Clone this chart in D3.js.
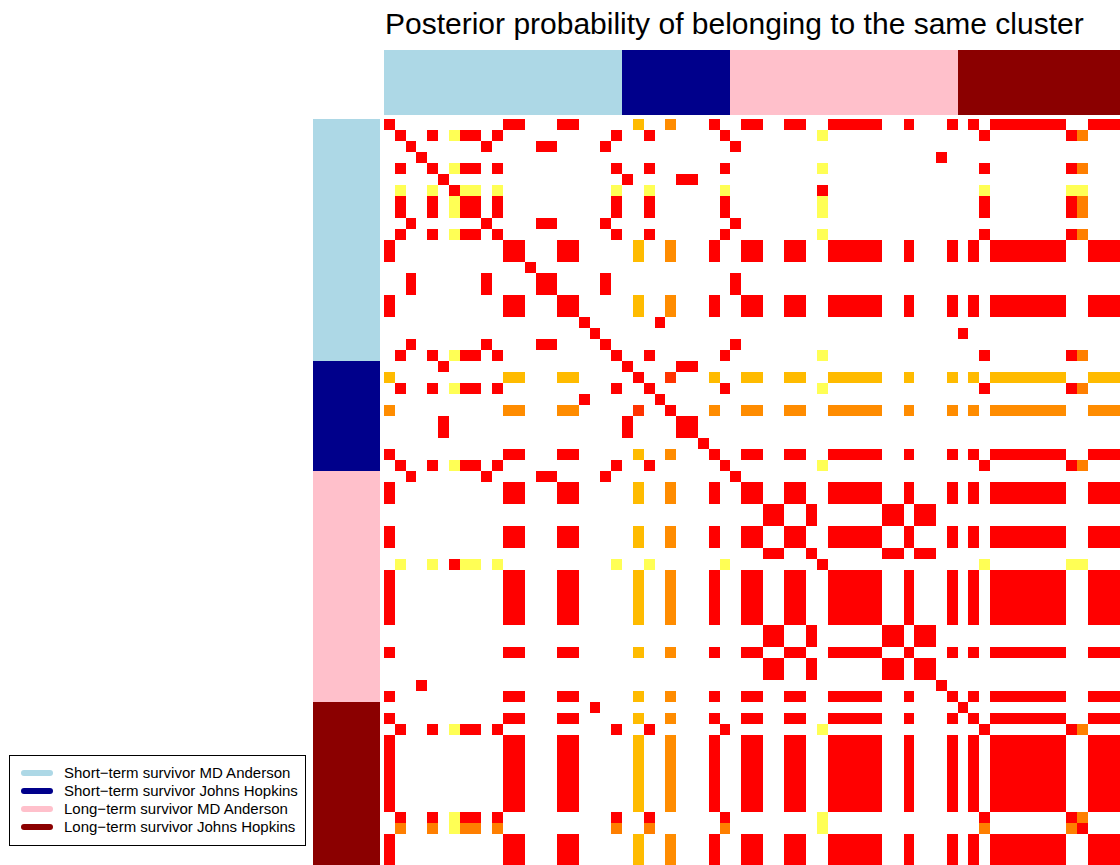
<!DOCTYPE html>
<html>
<head>
<meta charset="utf-8">
<script src="https://cdn.jsdelivr.net/npm/d3@7"></script>
<style>
  html, body { margin: 0; padding: 0; background: #fff; }
  svg { display: block; }
  text { font-family: "Liberation Sans", Arial, Helvetica, sans-serif; }
</style>
</head>
<body>
<svg id="chart" width="1120" height="865"></svg>
<script>
// ---------------- DATA ----------------
const chartTitle = "Posterior probability of belonging to the same cluster";

const groupNames = [
  "Short\u2212term survivor MD Anderson",
  "Short\u2212term survivor Johns Hopkins",
  "Long\u2212term survivor MD Anderson",
  "Long\u2212term survivor Johns Hopkins"
];
const groupSizes = [22, 10, 21, 15];
const groupColors = ["#ADD8E6", "#00008B", "#FFC0CB", "#8B0000"];

// probability classes ('.' = 0 / white)
const probCodes  = ["r", "q", "p", "o", "a", "y"];
const probValues = [1.0, 0.85, 0.65, 0.6, 0.45, 0.25];
const probColors = ["#FF0000", "#FF3300", "#FF7F00", "#FF8C00", "#FFBB00", "#FFFF55"];

// 68 x 68 posterior co-clustering matrix, one string per row (spaces only group columns by 10)
const matrixRows = [
  "r......... .rr...rr.. ...a..o... r..rr..rr. .rrrrr..r. ..r.r.rrrr rrr..rrr", // 0
  ".r..r.yrr. r......... .r..r..... .r........ y......... .....r.... ...rp...", // 1
  "..r......r ....rr.... r......... ..r....... .......... .......... ........", // 2
  "...r...... .......... .......... .......... .......... .r........ ........", // 3
  ".r..r.yrr. r......... .r..r..... .r........ y......... .....r.... ...rp...", // 4
  ".....r.... .......... ..r....rr. .......... .......... .......... ........", // 5
  ".y..y.ryy. y......... .y..y..... .y........ r......... .....y.... ...yy...", // 6
  ".r..r.yrr. r......... .r..r..... .r........ y......... .....r.... ...rp...", // 7
  ".r..r.yrr. r......... .r..r..... .r........ y......... .....r.... ...rp...", // 8
  "..r......r ....rr.... r......... ..r....... .......... .......... ........", // 9
  ".r..r.yrr. r......... .r..r..... .r........ y......... .....r.... ...rp...", // 10
  "r......... .rr...rr.. ...a..o... r..rr..rr. .rrrrr..r. ..r.r.rrrr rrr..rrr", // 11
  "r......... .rr...rr.. ...a..o... r..rr..rr. .rrrrr..r. ..r.r.rrrr rrr..rrr", // 12
  ".......... ...r...... .......... .......... .......... .......... ........", // 13
  "..r......r ....rr.... r......... ..r....... .......... .......... ........", // 14
  "..r......r ....rr.... r......... ..r....... .......... .......... ........", // 15
  "r......... .rr...rr.. ...a..o... r..rr..rr. .rrrrr..r. ..r.r.rrrr rrr..rrr", // 16
  "r......... .rr...rr.. ...a..o... r..rr..rr. .rrrrr..r. ..r.r.rrrr rrr..rrr", // 17
  ".......... ........r. .....r.... .......... .......... .......... ........", // 18
  ".......... .........r .......... .......... .......... ...r...... ........", // 19
  "..r......r ....rr.... r......... ..r....... .......... .......... ........", // 20
  ".r..r.yrr. r......... .r..r..... .r........ y......... .....r.... ...rp...", // 21
  ".....r.... .......... ..r....rr. .......... .......... .......... ........", // 22
  "a......... .aa...aa.. ...r..q... a..aa..aa. .aaaaa..a. ..a.a.aaaa aaa..aaa", // 23
  ".r..r.yrr. r......... .r..r..... .r........ y......... .....r.... ...rp...", // 24
  ".......... ........r. .....r.... .......... .......... .......... ........", // 25
  "o......... .oo...oo.. ...q..r... o..oo..oo. .ooooo..o. ..o.o.oooo ooo..ooo", // 26
  ".....r.... .......... ..r....rr. .......... .......... .......... ........", // 27
  ".....r.... .......... ..r....rr. .......... .......... .......... ........", // 28
  ".......... .......... .........r .......... .......... .......... ........", // 29
  "r......... .rr...rr.. ...a..o... r..rr..rr. .rrrrr..r. ..r.r.rrrr rrr..rrr", // 30
  ".r..r.yrr. r......... .r..r..... .r........ y......... .....r.... ...rp...", // 31
  "..r......r ....rr.... r......... ..r....... .......... .......... ........", // 32
  "r......... .rr...rr.. ...a..o... r..rr..rr. .rrrrr..r. ..r.r.rrrr rrr..rrr", // 33
  "r......... .rr...rr.. ...a..o... r..rr..rr. .rrrrr..r. ..r.r.rrrr rrr..rrr", // 34
  ".......... .......... .......... .....rr..r ......rr.r r......... ........", // 35
  ".......... .......... .......... .....rr..r ......rr.r r......... ........", // 36
  "r......... .rr...rr.. ...a..o... r..rr..rr. .rrrrr..r. ..r.r.rrrr rrr..rrr", // 37
  "r......... .rr...rr.. ...a..o... r..rr..rr. .rrrrr..r. ..r.r.rrrr rrr..rrr", // 38
  ".......... .......... .......... .....rr..r ......rr.r r......... ........", // 39
  ".y..y.ryy. y......... .y..y..... .y........ r......... .....y.... ...yy...", // 40
  "r......... .rr...rr.. ...a..o... r..rr..rr. .rrrrr..r. ..r.r.rrrr rrr..rrr", // 41
  "r......... .rr...rr.. ...a..o... r..rr..rr. .rrrrr..r. ..r.r.rrrr rrr..rrr", // 42
  "r......... .rr...rr.. ...a..o... r..rr..rr. .rrrrr..r. ..r.r.rrrr rrr..rrr", // 43
  "r......... .rr...rr.. ...a..o... r..rr..rr. .rrrrr..r. ..r.r.rrrr rrr..rrr", // 44
  "r......... .rr...rr.. ...a..o... r..rr..rr. .rrrrr..r. ..r.r.rrrr rrr..rrr", // 45
  ".......... .......... .......... .....rr..r ......rr.r r......... ........", // 46
  ".......... .......... .......... .....rr..r ......rr.r r......... ........", // 47
  "r......... .rr...rr.. ...a..o... r..rr..rr. .rrrrr..r. ..r.r.rrrr rrr..rrr", // 48
  ".......... .......... .......... .....rr..r ......rr.r r......... ........", // 49
  ".......... .......... .......... .....rr..r ......rr.r r......... ........", // 50
  "...r...... .......... .......... .......... .......... .r........ ........", // 51
  "r......... .rr...rr.. ...a..o... r..rr..rr. .rrrrr..r. ..r.r.rrrr rrr..rrr", // 52
  ".......... .........r .......... .......... .......... ...r...... ........", // 53
  "r......... .rr...rr.. ...a..o... r..rr..rr. .rrrrr..r. ..r.r.rrrr rrr..rrr", // 54
  ".r..r.yrr. r......... .r..r..... .r........ y......... .....r.... ...rp...", // 55
  "r......... .rr...rr.. ...a..o... r..rr..rr. .rrrrr..r. ..r.r.rrrr rrr..rrr", // 56
  "r......... .rr...rr.. ...a..o... r..rr..rr. .rrrrr..r. ..r.r.rrrr rrr..rrr", // 57
  "r......... .rr...rr.. ...a..o... r..rr..rr. .rrrrr..r. ..r.r.rrrr rrr..rrr", // 58
  "r......... .rr...rr.. ...a..o... r..rr..rr. .rrrrr..r. ..r.r.rrrr rrr..rrr", // 59
  "r......... .rr...rr.. ...a..o... r..rr..rr. .rrrrr..r. ..r.r.rrrr rrr..rrr", // 60
  "r......... .rr...rr.. ...a..o... r..rr..rr. .rrrrr..r. ..r.r.rrrr rrr..rrr", // 61
  "r......... .rr...rr.. ...a..o... r..rr..rr. .rrrrr..r. ..r.r.rrrr rrr..rrr", // 62
  ".r..r.yrr. r......... .r..r..... .r........ y......... .....r.... ...rp...", // 63
  ".p..p.ypp. p......... .p..p..... .p........ y......... .....p.... ...pr...", // 64
  "r......... .rr...rr.. ...a..o... r..rr..rr. .rrrrr..r. ..r.r.rrrr rrr..rrr", // 65
  "r......... .rr...rr.. ...a..o... r..rr..rr. .rrrrr..r. ..r.r.rrrr rrr..rrr", // 66
  "r......... .rr...rr.. ...a..o... r..rr..rr. .rrrrr..r. ..r.r.rrrr rrr..rrr"  // 67
];

// ---------------- BUILD ----------------
const n = d3.sum(groupSizes);
const cells = [];
matrixRows.forEach((row, i) => {
  row.replace(/ /g, "").split("").forEach((ch, j) => {
    const k = probCodes.indexOf(ch);
    if (k >= 0) cells.push({ row: i, col: j, value: probValues[k] });
  });
});

// sample -> group index
const sampleGroup = [];
groupSizes.forEach((s, g) => { for (let t = 0; t < s; t++) sampleGroup.push(g); });
const groupSpans = [];
let acc = 0;
groupSizes.forEach((s, g) => { groupSpans.push({ g, start: acc, end: acc + s }); acc += s; });

// ---------------- DRAW ----------------
const svg = d3.select("#chart");
const x = d3.scaleBand().domain(d3.range(n)).range([384, 1120]).paddingInner(0).paddingOuter(0);
const y = d3.scaleBand().domain(d3.range(n)).range([119, 867]).paddingInner(0).paddingOuter(0);
const color = d3.scaleOrdinal().domain(probValues).range(probColors);
const gColor = d3.scaleOrdinal().domain(d3.range(groupNames.length)).range(groupColors);

svg.append("rect").attr("width", 1120).attr("height", 865).attr("fill", "#fff");

// title
svg.append("text")
  .attr("x", 385).attr("y", 34)
  .attr("font-size", 30)
  .attr("fill", "#000")
  .text(chartTitle);

// column side colors
svg.append("g").attr("shape-rendering", "crispEdges")
  .selectAll("rect").data(groupSpans).join("rect")
  .attr("x", d => x(d.start))
  .attr("width", d => (d.end === n ? x.range()[1] : x(d.end)) - x(d.start))
  .attr("y", 50).attr("height", 65)
  .attr("fill", d => gColor(d.g));

// row side colors
svg.append("g").attr("shape-rendering", "crispEdges")
  .selectAll("rect").data(groupSpans).join("rect")
  .attr("y", d => y(d.start))
  .attr("height", d => (d.end === n ? y.range()[1] : y(d.end)) - y(d.start))
  .attr("x", 313).attr("width", 67)
  .attr("fill", d => gColor(d.g));

// heatmap cells
svg.append("g").attr("shape-rendering", "crispEdges")
  .selectAll("rect").data(cells).join("rect")
  .attr("x", d => x(d.col))
  .attr("y", d => y(d.row))
  .attr("width", x.bandwidth())
  .attr("height", y.bandwidth())
  .attr("fill", d => color(d.value));

// legend
const lg = svg.append("g");
lg.append("rect")
  .attr("x", 9.5).attr("y", 755.5).attr("width", 296).attr("height", 90)
  .attr("fill", "#fff").attr("stroke", "#000").attr("stroke-width", 1);
const ly = d3.scalePoint().domain(d3.range(groupNames.length)).range([773, 827]);
lg.selectAll("line").data(groupNames).join("line")
  .attr("x1", 24).attr("x2", 50)
  .attr("y1", (d, i) => ly(i)).attr("y2", (d, i) => ly(i))
  .attr("stroke", (d, i) => gColor(i))
  .attr("stroke-width", 6).attr("stroke-linecap", "round");
lg.selectAll("text").data(groupNames).join("text")
  .attr("x", 64).attr("y", (d, i) => ly(i) + 5.3)
  .attr("font-size", 15)
  .attr("fill", "#000")
  .text(d => d);
</script>
</body>
</html>
